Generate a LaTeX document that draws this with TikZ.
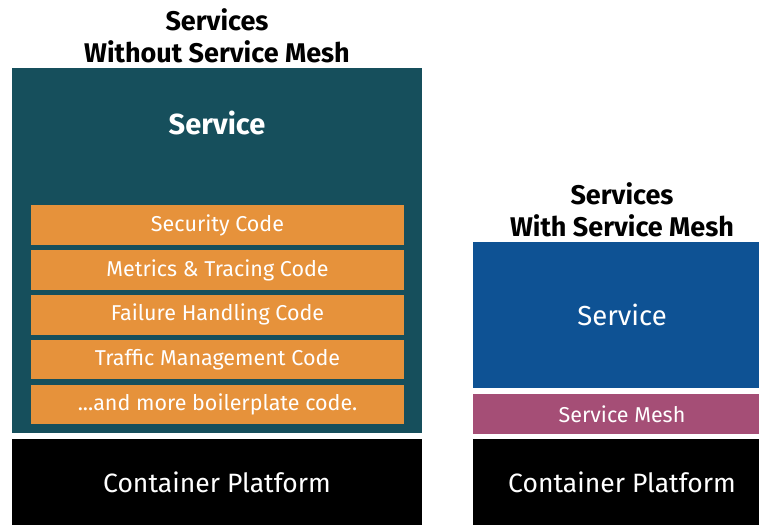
\documentclass[tikz,border=0pt]{standalone}
\usepackage{fontspec}
\setmainfont{Fira Sans}
\usetikzlibrary{positioning}
\definecolor{meshteal}{RGB}{22,79,92}
\definecolor{codeorange}{RGB}{230,146,59}
\definecolor{meshblue}{RGB}{14,82,148}
\definecolor{meshpurple}{RGB}{165,78,118}

\begin{document}
\begin{tikzpicture}[
    x=1pt, y=-1pt,
    node distance=5pt,
    title/.style={align=center, font=\fontsize{27}{32}\selectfont\bfseries},
    layer/.style={rectangle, inner sep=0pt, text=white},
    codebar/.style={layer, fill=codeorange, minimum width=373pt,
                    minimum height=39.5pt, font=\fontsize{21.5}{24}\selectfont},
    platform/.style={layer, fill=black, minimum height=86pt,
                     font=\fontsize{26.5}{30}\selectfont}
]
    \clip (0,0) rectangle (759,525);

    % Without service mesh
    \node[title] (oldhead) at (217,36) {Services\\Without Service Mesh};
    \node[layer, fill=meshteal, minimum width=410pt, minimum height=365pt] (oldsvc) at (217,250.5) {};
    \node[layer, font=\fontsize{29}{32}\selectfont\bfseries] (oldname) at (217,123) {Service};
    \node[codebar] (security) at (217.5,225) {Security Code};
    \node[codebar, below=of security] (metrics) {Metrics \& Tracing Code};
    \node[codebar, below=of metrics] (failure) {Failure Handling Code};
    \node[codebar, below=of failure] (traffic) {Traffic Management Code};
    \node[codebar, below=of traffic] (boiler) {...and more boilerplate code.};
    \node[platform, minimum width=410pt] (oldplat) at (217,482) {Container Platform};

    % With service mesh
    \node[title] (newhead) at (622,210) {Services\\With Service Mesh};
    \node[layer, fill=meshblue, minimum width=298pt, minimum height=146pt,
          font=\fontsize{27.5}{30}\selectfont] (newsvc) at (622,315) {Service};
    \node[layer, fill=meshpurple, minimum width=298pt, minimum height=40pt,
          font=\fontsize{21.5}{24}\selectfont] (mesh) at (622,414) {Service Mesh};
    \node[platform, minimum width=298pt] (newplat) at (622,482) {Container Platform};

\end{tikzpicture}
\end{document}
